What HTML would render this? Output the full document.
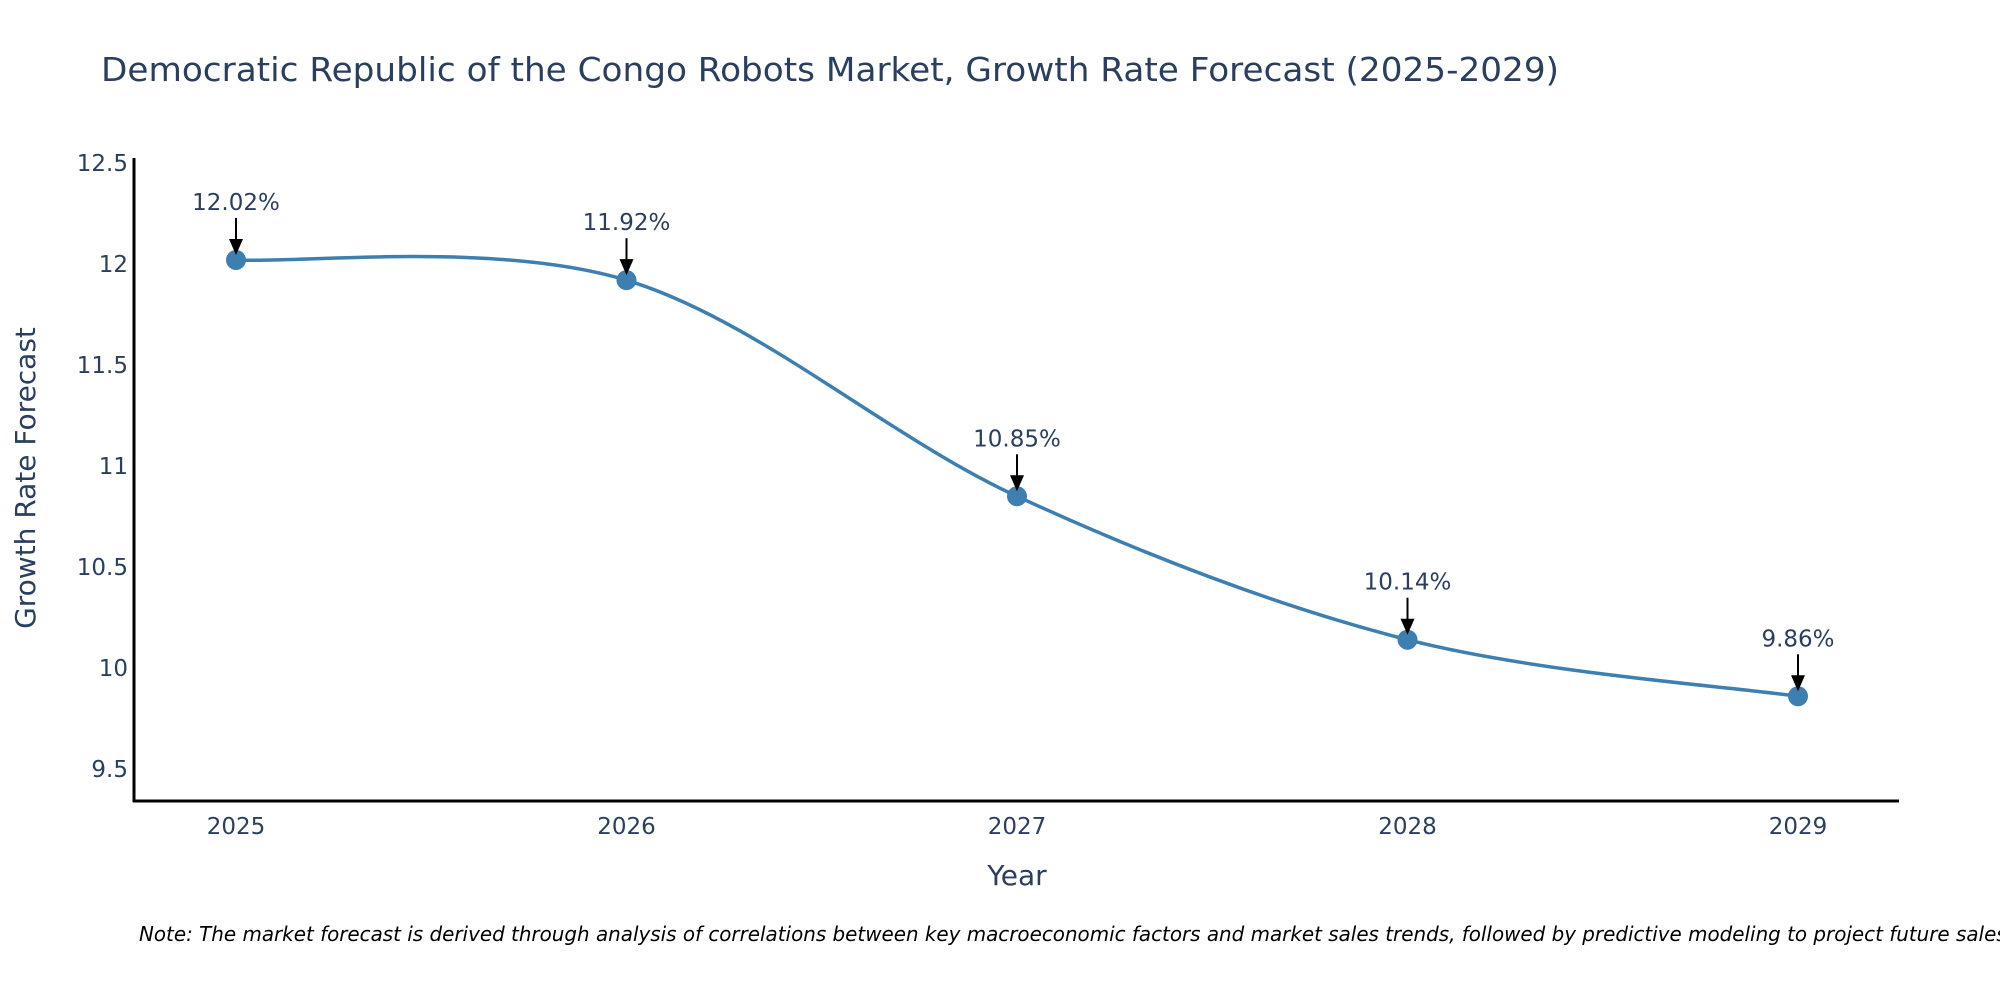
<!DOCTYPE html>
<html><head><meta charset="utf-8"><style>
html,body{margin:0;padding:0;background:#fff;}
svg{display:block;font-family:"DejaVu Sans","Liberation Sans",sans-serif;}
</style></head><body>
<svg id="chart" width="2000" height="1000" viewBox="0 0 2000 1000">
<text x="101" y="81" font-size="33" fill="#2a3f5f" textLength="1458" lengthAdjust="spacingAndGlyphs">Democratic Republic of the Congo Robots Market, Growth Rate Forecast (2025-2029)</text>
<g id="yticks"></g>
<g id="xticks"></g>
<line x1="134" y1="158" x2="134" y2="802" stroke="#000" stroke-width="3"/>
<line x1="133" y1="801" x2="1899" y2="801" stroke="#000" stroke-width="3"/>
<text transform="translate(35,478) rotate(-90)" text-anchor="middle" font-size="28" fill="#2a3f5f">Growth Rate Forecast</text>
<text x="1017" y="885" text-anchor="middle" font-size="28" fill="#2a3f5f">Year</text>
<g id="series"></g>
<text x="139" y="941" font-size="20" font-style="italic" fill="#000" textLength="1874" lengthAdjust="spacingAndGlyphs">Note: The market forecast is derived through analysis of correlations between key macroeconomic factors and market sales trends, followed by predictive modeling to project future sales.</text>
</svg>
<script>
const years = [2025, 2026, 2027, 2028, 2029];
const growth = [12.02, 11.92, 10.85, 10.14, 9.86];
const yTickValues = [9.5, 10, 10.5, 11, 11.5, 12, 12.5];
const yTickLabels = ["9.5", "10", "10.5", "11", "11.5", "12", "12.5"];

const NS = "http://www.w3.org/2000/svg";
function xScale(v){ return 236 + (v - 2025) * (1798 - 236) / 4; }
function yScale(v){ return 668 - (v - 10) * 202; }
function mk(tag, attrs, parent){ const e = document.createElementNS(NS, tag); for (const k in attrs) e.setAttribute(k, attrs[k]); parent.appendChild(e); return e; }

const yt = document.getElementById('yticks');
yTickValues.forEach((v, i) => {
  const t = mk('text', {x: 128, y: yScale(v) + 8, 'text-anchor': 'end', 'font-size': 23, fill: '#2a3f5f'}, yt);
  
  
  t.textContent = yTickLabels[i];
});
const xt = document.getElementById('xticks');
years.forEach(y => {
  const t = mk('text', {x: xScale(y), y: 834, 'text-anchor': 'middle', 'font-size': 23, fill: '#2a3f5f'}, xt);
  
  
  t.textContent = String(y);
});

const g = document.getElementById('series');
const pts = years.map((y, i) => [xScale(y), yScale(growth[i])]);
let d = 'M' + pts[0][0] + ',' + pts[0][1];
for (let i = 0; i < pts.length - 1; i++) {
  const p0 = pts[Math.max(0, i - 1)], p1 = pts[i], p2 = pts[i + 1], p3 = pts[Math.min(pts.length - 1, i + 2)];
  const c1 = [p1[0] + (p2[0] - p0[0]) / 6, p1[1] + (p2[1] - p0[1]) / 6];
  const c2 = [p2[0] - (p3[0] - p1[0]) / 6, p2[1] - (p3[1] - p1[1]) / 6];
  d += ' C' + c1[0] + ',' + c1[1] + ' ' + c2[0] + ',' + c2[1] + ' ' + p2[0] + ',' + p2[1];
}
const line = mk('path', {d: d, fill: 'none', stroke: '#3d7fb0', 'stroke-width': 3.5}, g);



pts.forEach((p, i) => {
  const c = mk('circle', {cx: p[0], cy: p[1], r: 10, fill: '#3d7fb0'}, g);
  
  
  const a = mk('line', {x1: p[0], y1: p[1] - 42, x2: p[0], y2: p[1] - 20, stroke: '#000', 'stroke-width': 2}, g);
  
  
  const h = mk('polygon', {points: (p[0]-7)+','+(p[1]-21)+' '+(p[0]+7)+','+(p[1]-21)+' '+p[0]+','+(p[1]-5)}, g);
  
  
  const t = mk('text', {x: p[0], y: p[1] - 50, 'text-anchor': 'middle', 'font-size': 23, fill: '#2a3f5f'}, g);
  
  
  t.textContent = growth[i].toFixed(2) + '%';
});
</script>
</body></html>
